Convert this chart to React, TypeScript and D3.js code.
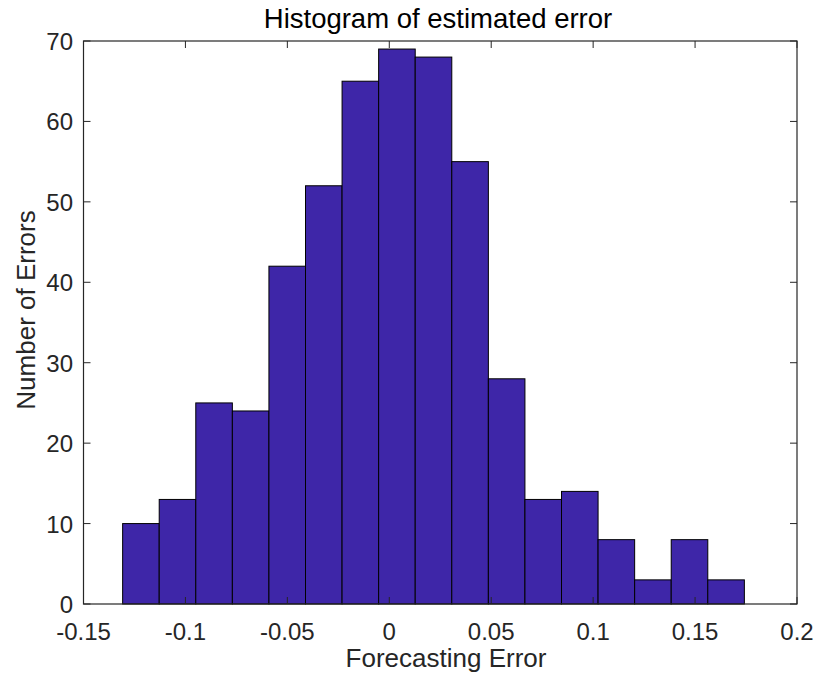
import React from "react";
import * as d3 from "d3";

const binStart = -0.1308;
const binWidth = 0.01794;
const counts = [10, 13, 25, 24, 42, 52, 65, 69, 68, 55, 28, 13, 14, 8, 3, 8, 3];
const xTicks = [-0.15, -0.1, -0.05, 0, 0.05, 0.1, 0.15, 0.2];
const yTicks = [0, 10, 20, 30, 40, 50, 60, 70];

const W = 819, H = 677;
const L = 83.5, R = 797, T = 41, B = 604;

export default function App() {
  const x = d3.scaleLinear().domain([-0.15, 0.2]).range([L, R]);
  const y = d3.scaleLinear().domain([0, 70]).range([B, T]);
  const font = "'Liberation Sans', Arial, Helvetica, sans-serif";
  const axisColor = "#262626";
  const tl = 7;
  return (
    <svg width={W} height={H} style={{ position: "absolute", left: 0, top: 0, background: "#fff" }} fontFamily={font}>
      <rect x={0} y={0} width={W} height={H} fill="#fff" />
      {counts.map((c, i) => {
        const x0 = x(binStart + i * binWidth);
        const x1 = x(binStart + (i + 1) * binWidth);
        return (
          <rect key={i} x={x0} y={y(c)} width={x1 - x0} height={y(0) - y(c)} fill="#3e26a8" stroke="#000" strokeWidth={1} />
        );
      })}
      <rect x={L} y={T} width={R - L} height={B - T} fill="none" stroke={axisColor} strokeWidth={1.2} />
      {xTicks.map((t, i) => (
        <g key={i}>
          <line x1={x(t)} x2={x(t)} y1={B} y2={B - tl} stroke={axisColor} />
          <line x1={x(t)} x2={x(t)} y1={T} y2={T + tl} stroke={axisColor} />
          <text x={x(t)} y={640} textAnchor="middle" fontSize={24} fill={axisColor}>{String(t)}</text>
        </g>
      ))}
      {yTicks.map((t, i) => (
        <g key={i}>
          <line x1={L} x2={L + tl} y1={y(t)} y2={y(t)} stroke={axisColor} />
          <line x1={R} x2={R - tl} y1={y(t)} y2={y(t)} stroke={axisColor} />
          <text x={73} y={y(t) + 9} textAnchor="end" fontSize={24} fill={axisColor}>{String(t)}</text>
        </g>
      ))}
      <text x={438} y={28} textAnchor="middle" fontSize={27.5} fill="#000">Histogram of estimated error</text>
      <text x={446} y={667} textAnchor="middle" fontSize={26} fill={axisColor}>Forecasting Error</text>
      <text transform={`translate(35,310) rotate(-90)`} textAnchor="middle" fontSize={26} fill={axisColor}>Number of Errors</text>
    </svg>
  );
}
